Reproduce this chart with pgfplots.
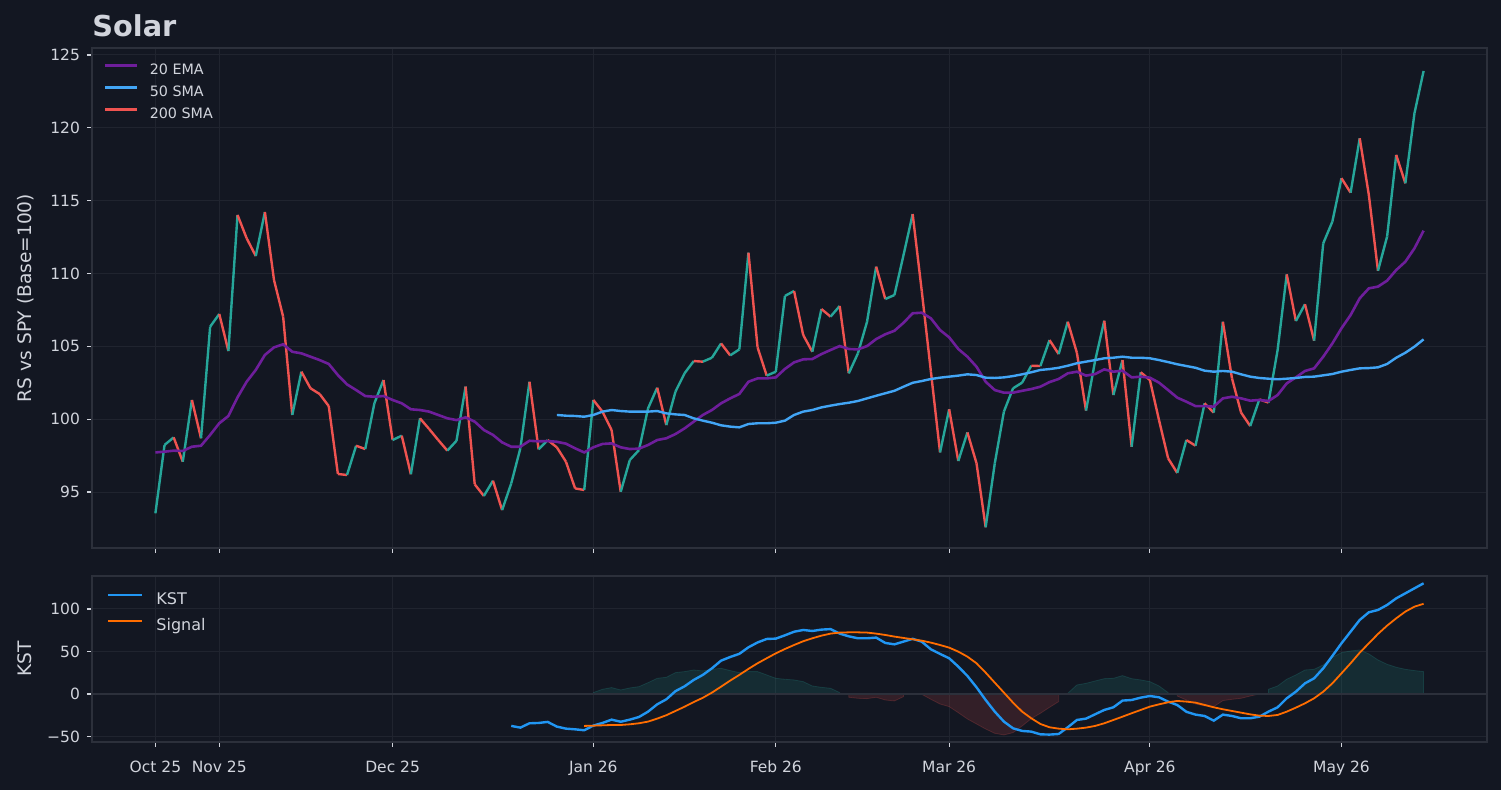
\documentclass[border=0pt]{standalone}
\usepackage{fontspec}
\setmainfont{DejaVu Sans}
\usepackage{pgfplots}
\pgfplotsset{compat=1.18}
\usepackage{pgfplotstable}

\definecolor{bg}{RGB}{19,23,34}
\definecolor{gridc}{RGB}{32,36,47}
\definecolor{spine}{RGB}{44,48,59}
\definecolor{txt}{RGB}{209,212,220}
\definecolor{upc}{RGB}{38,166,154}
\definecolor{dnc}{RGB}{239,83,80}
\definecolor{emac}{RGB}{110,30,155}
\definecolor{smac}{RGB}{66,165,245}
\definecolor{kstc}{RGB}{33,150,243}
\definecolor{sigc}{RGB}{255,109,0}

\pgfplotstableread{
i v c
0 93.54 1
1 98.23 1
2 98.75 0
3 97.08 1
4 101.32 0
5 98.69 1
6 106.35 1
7 107.22 0
8 104.68 1
9 114.02 0
10 112.42 0
11 111.20 1
12 114.22 0
13 109.55 0
14 107.04 0
15 100.29 1
16 103.26 0
17 102.12 0
18 101.73 0
19 100.90 0
20 96.24 0
21 96.17 1
22 98.18 0
23 97.95 1
24 101.09 1
25 102.69 0
26 98.57 1
27 98.87 0
28 96.22 1
29 100.06 0
30 99.33 0
31 98.57 0
32 97.84 1
33 98.52 1
34 102.24 0
35 95.53 0
36 94.73 1
37 95.78 0
38 93.76 1
39 95.59 1
40 98.00 1
41 102.57 0
42 97.93 1
43 98.57 0
44 98.07 0
45 97.08 0
46 95.25 0
47 95.14 1
48 101.32 0
49 100.52 0
50 99.26 0
51 95.02 1
52 97.20 1
53 97.88 1
54 100.75 1
55 102.16 0
56 99.60 1
57 101.89 1
58 103.15 1
59 103.99 0
60 103.95 1
61 104.22 1
62 105.20 0
63 104.38 1
64 104.79 1
65 111.43 0
66 104.93 0
67 102.99 1
68 103.26 1
69 108.46 1
70 108.80 0
71 105.78 0
72 104.63 1
73 107.56 0
74 107.04 1
75 107.77 0
76 103.15 1
77 104.52 1
78 106.69 1
79 110.47 0
80 108.25 1
81 108.52 1
82 111.27 1
83 114.08 0
84 108.78 0
85 103.26 0
86 97.72 1
87 100.68 0
88 97.13 1
89 99.09 0
90 96.97 0
91 92.58 1
92 96.97 1
93 100.52 1
94 102.12 1
95 102.51 1
96 103.67 0
97 103.65 1
98 105.43 0
99 104.47 1
100 106.69 0
101 104.56 0
102 100.59 1
103 104.02 1
104 106.76 0
105 101.66 1
106 104.06 0
107 98.11 1
108 103.22 0
109 102.69 0
110 99.94 0
111 97.31 0
112 96.31 1
113 98.57 0
114 98.18 1
115 101.09 0
116 100.45 1
117 106.69 0
118 102.80 0
119 100.45 0
120 99.53 1
121 101.36 0
122 101.14 1
123 104.75 1
124 109.94 0
125 106.74 1
126 107.89 0
127 105.39 1
128 112.07 1
129 113.56 1
130 116.54 0
131 115.55 1
132 119.28 0
133 115.39 0
134 110.19 1
135 112.53 1
136 118.14 0
137 116.19 1
138 121.00 1
139 123.90 1
}\rsdata

\pgfplotstableread{
i v
0 97.72
1 97.77
2 97.84
3 97.82
4 98.11
5 98.18
6 98.92
7 99.72
8 100.22
9 101.50
10 102.57
11 103.38
12 104.41
13 104.93
14 105.14
15 104.63
16 104.52
17 104.29
18 104.06
19 103.79
20 103.03
21 102.39
22 102.00
23 101.59
24 101.54
25 101.59
26 101.32
27 101.09
28 100.68
29 100.63
30 100.52
31 100.29
32 100.06
33 99.94
34 100.13
35 99.83
36 99.26
37 98.92
38 98.41
39 98.11
40 98.11
41 98.52
42 98.48
43 98.50
44 98.45
45 98.32
46 98.00
47 97.72
48 98.07
49 98.30
50 98.34
51 98.07
52 97.95
53 97.98
54 98.23
55 98.57
56 98.69
57 98.98
58 99.37
59 99.83
60 100.29
61 100.63
62 101.09
63 101.43
64 101.73
65 102.57
66 102.80
67 102.80
68 102.87
69 103.45
70 103.90
71 104.11
72 104.13
73 104.47
74 104.75
75 105.02
76 104.82
77 104.79
78 105.02
79 105.50
80 105.83
81 106.07
82 106.62
83 107.27
84 107.31
85 106.92
86 106.12
87 105.62
88 104.82
89 104.29
90 103.60
91 102.57
92 102.00
93 101.82
94 101.82
95 101.95
96 102.07
97 102.23
98 102.55
99 102.76
100 103.15
101 103.26
102 102.99
103 103.10
104 103.42
105 103.26
106 103.33
107 102.87
108 102.92
109 102.85
110 102.51
111 102.00
112 101.48
113 101.20
114 100.90
115 100.90
116 100.86
117 101.43
118 101.54
119 101.43
120 101.27
121 101.32
122 101.25
123 101.66
124 102.46
125 102.87
126 103.31
127 103.49
128 104.29
129 105.20
130 106.24
131 107.15
132 108.30
133 108.98
134 109.10
135 109.51
136 110.24
137 110.81
138 111.73
139 112.94
}\emadata

\pgfplotstableread{
i v
44 100.29
45 100.24
46 100.22
47 100.17
48 100.29
49 100.52
50 100.63
51 100.56
52 100.52
53 100.52
54 100.52
55 100.56
56 100.40
57 100.33
58 100.29
59 100.06
60 99.90
61 99.76
62 99.58
63 99.49
64 99.44
65 99.67
66 99.72
67 99.72
68 99.76
69 99.90
70 100.29
71 100.52
72 100.63
73 100.81
74 100.93
75 101.04
76 101.13
77 101.25
78 101.43
79 101.61
80 101.78
81 101.95
82 102.23
83 102.50
84 102.62
85 102.76
86 102.85
87 102.92
88 102.99
89 103.08
90 103.03
91 102.85
92 102.83
93 102.87
94 102.96
95 103.08
96 103.22
97 103.38
98 103.44
99 103.53
100 103.67
101 103.84
102 103.95
103 104.06
104 104.18
105 104.22
106 104.29
107 104.22
108 104.22
109 104.18
110 104.06
111 103.92
112 103.77
113 103.65
114 103.53
115 103.33
116 103.26
117 103.31
118 103.26
119 103.08
120 102.92
121 102.83
122 102.78
123 102.74
124 102.78
125 102.83
126 102.90
127 102.92
128 103.01
129 103.10
130 103.26
131 103.38
132 103.49
133 103.51
134 103.56
135 103.79
136 104.22
137 104.56
138 104.98
139 105.48
}\smadata

\pgfplotstableread{
i v
39 -37.6
40 -39.6
41 -34.5
42 -34.1
43 -32.9
44 -38.4
45 -40.8
46 -41.6
47 -42.7
48 -37.2
49 -34.1
50 -30.2
51 -32.7
52 -30.2
53 -27.1
54 -20.8
55 -12.2
56 -6.3
57 3.3
58 9.0
59 16.5
60 22.4
61 30.2
62 39.2
63 43.5
64 47.2
65 54.9
66 60.6
67 64.7
68 65.1
69 69.0
70 73.2
71 75.3
72 74.1
73 75.7
74 76.3
75 71.0
76 67.8
77 65.5
78 65.5
79 66.3
80 60.0
81 58.4
82 61.6
83 64.9
84 61.5
85 52.5
86 47.1
87 42.0
88 32.2
89 21.2
90 7.8
91 -7.1
92 -20.8
93 -32.5
94 -40.4
95 -43.5
96 -44.3
97 -47.5
98 -47.8
99 -47.1
100 -39.2
101 -30.6
102 -29.0
103 -23.9
104 -18.8
105 -15.7
106 -7.8
107 -7.1
108 -4.3
109 -2.4
110 -3.9
111 -9.0
112 -13.0
113 -21.0
114 -24.3
115 -25.9
116 -31.4
117 -24.3
118 -25.9
119 -28.6
120 -28.6
121 -26.7
122 -20.8
123 -15.7
124 -5.1
125 2.7
126 12.5
127 18.4
128 30.2
129 44.7
130 59.6
131 73.3
132 87.1
133 96.1
134 98.8
135 104.7
136 112.5
137 118.4
138 124.3
139 130.2
}\kstdata

\pgfplotstableread{
i v
47 -37.6
48 -37.3
49 -36.9
50 -36.5
51 -36.5
52 -35.7
53 -34.5
54 -32.5
55 -29.0
56 -25.0
57 -20.0
58 -15.0
59 -9.5
60 -4.5
61 1.6
62 8.6
63 15.7
64 22.4
65 29.5
66 36.1
67 42.0
68 47.8
69 52.9
70 57.6
71 62.0
72 65.5
73 68.6
74 71.0
75 72.2
76 72.5
77 72.5
78 72.2
79 71.0
80 69.4
81 67.5
82 65.9
83 64.3
84 62.7
85 60.4
86 57.6
87 54.5
88 49.8
89 43.9
90 36.1
91 25.1
92 13.3
93 1.6
94 -10.2
95 -20.8
96 -28.6
97 -35.3
98 -39.2
99 -40.8
100 -41.6
101 -40.8
102 -39.6
103 -37.6
104 -34.5
105 -30.6
106 -26.7
107 -22.7
108 -18.8
109 -14.9
110 -12.2
111 -9.8
112 -8.2
113 -9.0
114 -10.2
115 -12.9
116 -15.7
117 -18.0
118 -20.0
119 -22.0
120 -24.0
121 -25.5
122 -25.9
123 -24.7
124 -20.8
125 -16.1
126 -11.0
127 -5.1
128 2.7
129 12.5
130 24.3
131 36.1
132 48.6
133 59.6
134 70.6
135 80.4
136 89.0
137 96.9
138 102.7
139 106.1
}\sigdata

\pgfplotsset{
  panel/.style={
    scale only axis, width=697.5pt,
    xmin=-6.95, xmax=145.95,
    axis background/.style={fill=bg},
    axis line style={draw=spine, line width=0.7pt},
    grid=major, major grid style={draw=gridc, line width=0.5pt},
    tick align=outside, major tick length=2.5pt,
    major tick style={draw=txt, line width=0.6pt},
    xtick pos=lower, ytick pos=lower,
    xtick={0,7,26,48,68,87,109,130},
    tick label style={font=\fontsize{7.75}{9}\selectfont, text=txt},
    xticklabel style={yshift=-3.5pt},
    legend cell align=left,
  }
}

\begin{document}
\begin{tikzpicture}
\fill[bg] (0,0) rectangle (750.5pt,395pt);
\path[use as bounding box] (0,0) rectangle (750.5pt,395pt);

\begin{axis}[panel,
  at={(46pt,121pt)}, anchor=south west, height=250pt,
  ymin=91.16, ymax=125.48,
  ytick={95,100,105,110,115,120,125},
  yticklabels={95,100,105,110,115,120,125},
  xticklabels={},
  title={Solar},
  every axis title shift=0pt,
  title style={font=\fontsize{14.4}{16}\selectfont\bfseries, text=txt, anchor=base west, at={(axis description cs:0,1.022)}, inner sep=0pt},
  ylabel={RS vs SPY (Base=100)},
  every axis y label/.style={at={(axis description cs:-0.0473,0.5)}, rotate=90, anchor=center, font=\fontsize{9.3}{11}\selectfont, text=txt},
  legend style={at={(axis description cs:0.0086,0.9696)}, anchor=north west, draw=none, fill=none, inner sep=0pt, outer sep=0pt,
    font=\fontsize{7.15}{8}\selectfont, text=txt, row sep=4pt,
    nodes={inner sep=0pt, text height=5.5pt, text depth=1.5pt},
    /tikz/every odd column/.append style={column sep=5.5pt}},
  legend image code/.code={\draw[#1, line width=1.4pt] (0pt,2.4pt) -- (16pt,2.4pt);},
]
\addplot[mesh, shader=flat corner, point meta=\thisrow{c}, line width=1.2pt,
  colormap={ud}{rgb255=(239,83,80) rgb255=(38,166,154)}, forget plot] table[x=i, y=v] {\rsdata};
\addplot[emac, line width=1.3pt] table[x=i, y=v] {\emadata};
\addlegendentry{20 EMA}
\addplot[smac, line width=1.2pt] table[x=i, y=v] {\smadata};
\addlegendentry{50 SMA}
\addlegendimage{dnc}
\addlegendentry{200 SMA}
\end{axis}

\begin{axis}[panel,
  at={(46pt,24pt)}, anchor=south west, height=83pt,
  ymin=-56.5, ymax=138.8,
  ytick={-50,0,50,100},
  yticklabels={−50,0,50,100},
  xticklabels={Oct 25,Nov 25,Dec 25,Jan 26,Feb 26,Mar 26,Apr 26,May 26},
  ylabel={KST},
  every axis y label/.style={at={(axis description cs:-0.0482,0.5)}, rotate=90, anchor=center, font=\fontsize{9.3}{11}\selectfont, text=txt},
  legend style={at={(axis description cs:0.0108,0.901)}, anchor=north west, draw=none, fill=none, inner sep=0pt, outer sep=0pt,
    font=\fontsize{8}{9}\selectfont, text=txt, row sep=5.1pt,
    nodes={inner sep=0pt, text height=6.2pt, text depth=1.7pt},
    /tikz/every odd column/.append style={column sep=6.5pt}},
  legend image code/.code={\draw[#1] (0pt,2.7pt) -- (17pt,2.7pt);},
]
\addplot[draw=upc, fill=upc, fill opacity=0.15, draw opacity=0.2, line width=0.4pt, forget plot] coordinates {
(48,0) (48,1.6) (49,5.5) (50,7.5) (51,4.7) (52,7.1) (53,8.6) (54,13.3) (55,18.4) (56,19.6) (57,25.1) (58,26.3) (59,28.2) (60,27.1) (61,29.0) (62,30.2) (63,27.5) (64,25.1) (65,26.3) (66,26.3) (67,22.4) (68,18.4) (69,17.3) (70,16.5) (71,14.5) (72,9.4) (73,7.8) (74,6.7) (75,1.6) (75,0)} -- cycle;
\addplot[draw=dnc, fill=dnc, fill opacity=0.15, draw opacity=0.2, line width=0.4pt, forget plot] coordinates {
(76,0) (76,-3.9) (77,-5.1) (78,-5.5) (79,-3.9) (80,-7.1) (81,-8.2) (82,-3.1) (82,0)} -- cycle;
\addplot[draw=dnc, fill=dnc, fill opacity=0.15, draw opacity=0.2, line width=0.4pt, forget plot] coordinates {
(84,0) (84,-0.4) (85,-6.3) (86,-11.8) (87,-14.9) (88,-22.0) (89,-29.4) (90,-35.3) (91,-41.2) (92,-46.3) (93,-48.2) (94,-45.5) (95,-37.6) (96,-29.0) (97,-22.7) (98,-15.7) (99,-9.0) (99,0)} -- cycle;
\addplot[draw=upc, fill=upc, fill opacity=0.15, draw opacity=0.2, line width=0.4pt, forget plot] coordinates {
(100,0) (100,0.8) (101,10.6) (102,12.5) (103,15.3) (104,18.0) (105,18.4) (106,21.6) (107,18.0) (108,16.5) (109,14.5) (110,9.4) (111,1.6) (111,0)} -- cycle;
\addplot[draw=dnc, fill=dnc, fill opacity=0.15, draw opacity=0.2, line width=0.4pt, forget plot] coordinates {
(112,0) (112,-2.4) (113,-7.1) (114,-11.8) (115,-14.1) (116,-14.9) (117,-7.8) (118,-6.3) (119,-5.1) (120,-2.4) (121,0)} -- cycle;
\addplot[draw=upc, fill=upc, fill opacity=0.15, draw opacity=0.2, line width=0.4pt, forget plot] coordinates {
(122,0) (122,5.5) (123,9.4) (124,17.3) (125,22.4) (126,28.2) (127,29.0) (128,34.1) (129,43.1) (130,48.6) (131,50.6) (132,51.8) (133,47.1) (134,40.0) (135,34.9) (136,31.4) (137,29.0) (138,27.5) (139,26.3) (139,0)} -- cycle;
\addplot[spine, line width=1.1pt, forget plot] coordinates {(-6.95,0) (145.95,0)};
\addplot[kstc, line width=1.2pt] table[x=i, y=v] {\kstdata};
\addlegendentry{KST}
\addplot[sigc, line width=0.9pt] table[x=i, y=v] {\sigdata};
\addlegendentry{Signal}
\end{axis}
\end{tikzpicture}
\end{document}
